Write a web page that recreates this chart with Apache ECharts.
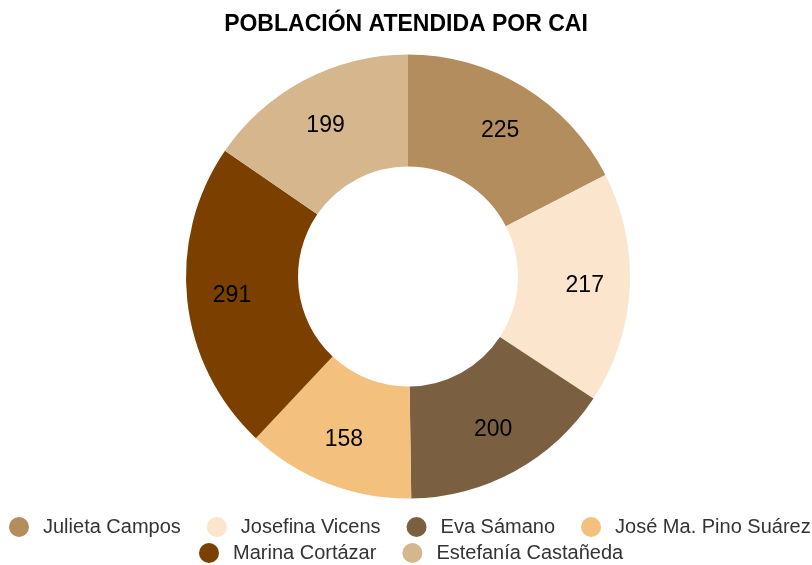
<!DOCTYPE html>
<html>
<head>
<meta charset="utf-8">
<script src="https://cdn.jsdelivr.net/npm/echarts@6/dist/echarts.min.js"></script>
<style>
html,body{margin:0;padding:0;background:#fff;}
#chart{width:812px;height:565px;}
</style>
</head>
<body>
<div id="chart"></div>
<script>
const categories = ['Julieta Campos', 'Josefina Vicens', 'Eva Sámano', 'José Ma. Pino Suárez', 'Marina Cortázar', 'Estefanía Castañeda'];
const values = [225, 217, 200, 158, 291, 199];
const colors = ['#B38D5E', '#FBE5CD', '#7A6040', '#F3C07E', '#7B3F00', '#D6B68C'];
const titleText = 'POBLACIÓN ATENDIDA POR CAI';

const data = categories.map((c, i) => ({ name: c, value: values[i], itemStyle: { color: colors[i] } }));
const font = 'Arial, "Liberation Sans", sans-serif';
const CX = 408, CY = 276.5;

const legendBase = {
  orient: 'horizontal',
  icon: 'circle',
  itemWidth: 38,
  itemHeight: 20,
  itemGap: 26,
  padding: 0,
  textStyle: { fontSize: 20, color: '#333', fontFamily: font }
};

const chart = echarts.init(document.getElementById('chart'), null, { renderer: 'canvas' });
chart.setOption({
  animation: false,
  color: colors,
  title: {
    text: titleText,
    left: 'center',
    top: 8,
    textStyle: { fontSize: 23, fontWeight: 'bold', color: '#000', fontFamily: font }
  },
  legend: [
    Object.assign({}, legendBase, { top: 517, left: 9, data: categories.slice(0, 4) }),
    Object.assign({}, legendBase, { top: 543, left: 199, data: categories.slice(4) })
  ],
  series: [
    {
      type: 'pie',
      center: [CX, CY],
      radius: [110, 222],
      startAngle: 90,
      clockwise: true,
      label: { show: false },
      labelLine: { show: false },
      emphasis: { disabled: true },
      data: data
    },
    {
      type: 'pie',
      center: [CX, CY],
      radius: [126, 222],
      startAngle: 90,
      clockwise: true,
      silent: true,
      itemStyle: { color: 'rgba(0,0,0,0)' },
      label: {
        show: true,
        position: 'inside',
        formatter: '{c}',
        fontSize: 23,
        color: '#000',
        fontFamily: font
      },
      labelLayout: function (p) {
        const r = p.labelRect;
        const ly = r.y + r.height / 2;
        const k = ly < CY ? 0.038 : 0.012;
        return { dy: -(ly - CY) * k };
      },
      labelLine: { show: false },
      emphasis: { disabled: true },
      data: categories.map((c, i) => ({ name: c, value: values[i], itemStyle: { color: 'rgba(0,0,0,0)' } }))
    }
  ]
});
</script>
</body>
</html>
